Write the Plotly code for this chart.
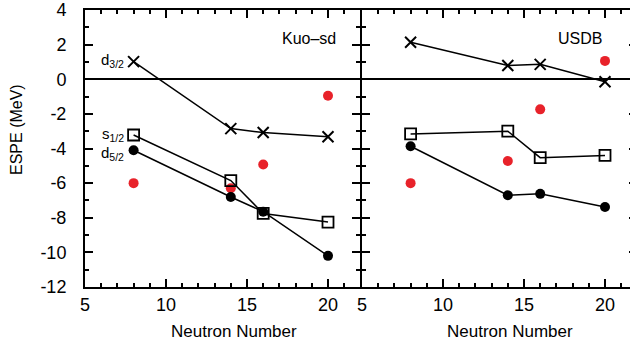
import plotly.graph_objects as go

# Neutron numbers
N = [8, 14, 16, 20]

# Kuo-sd panel
kuo_d32 = [1.02, -2.85, -3.08, -3.32]
kuo_s12 = [-3.22, -5.85, -7.75, -8.25]
kuo_d52 = [-4.10, -6.80, -7.65, -10.20]
kuo_exp = [-6.00, -6.30, -4.92, -0.95]

# USDB panel
usdb_d32 = [2.14, 0.79, 0.86, -0.14]
usdb_s12 = [-3.16, -3.00, -4.53, -4.40]
usdb_d52 = [-3.87, -6.70, -6.62, -7.38]
usdb_exp = [-6.00, -4.72, -1.74, 1.06]

x_ticks = [5, 10, 15, 20]
y_ticks = [4, 2, 0, -2, -4, -6, -8, -10, -12]

FONT = "Liberation Sans, Arial, Helvetica, sans-serif"
RED = "#e8222a"

fig = go.Figure()

def add_panel(xa, ya, d32, s12, d52, ex):
    fig.add_trace(go.Scatter(x=N, y=ex, mode="markers", xaxis=xa, yaxis=ya,
                             marker=dict(symbol="circle", size=10, color=RED, line=dict(width=0)),
                             showlegend=False))
    fig.add_trace(go.Scatter(x=N, y=d32, mode="lines+markers", xaxis=xa, yaxis=ya,
                             line=dict(color="black", width=1.5),
                             marker=dict(symbol="x-thin", size=11, color="black",
                                         line=dict(color="black", width=2)),
                             showlegend=False))
    fig.add_trace(go.Scatter(x=N, y=s12, mode="lines+markers", xaxis=xa, yaxis=ya,
                             line=dict(color="black", width=1.5),
                             marker=dict(symbol="square-open", size=11, color="black",
                                         line=dict(color="black", width=1.8)),
                             showlegend=False))
    fig.add_trace(go.Scatter(x=N, y=d52, mode="lines+markers", xaxis=xa, yaxis=ya,
                             line=dict(color="black", width=1.5),
                             marker=dict(symbol="circle", size=10, color="black"),
                             showlegend=False))

add_panel("x", "y", kuo_d32, kuo_s12, kuo_d52, kuo_exp)
add_panel("x2", "y2", usdb_d32, usdb_s12, usdb_d52, usdb_exp)

# plot area in page pixels: x 85..637 (right frame falls just outside the 630 px window), y 10..287
PW = 552.0
PH = 277.0

xcommon = dict(tickmode="array", tickvals=x_ticks, ticktext=[str(v) for v in x_ticks],
               ticks="inside", ticklen=8, tickwidth=1.5, tickcolor="black",
               minor=dict(dtick=1, tick0=5, ticks="inside", ticklen=4, tickwidth=1.5, tickcolor="black"),
               showline=True, linewidth=2, linecolor="black", mirror="allticks",
               showgrid=False, zeroline=False, automargin=False,
               tickfont=dict(family=FONT, size=18, color="black"),
               ticklabelstandoff=0)
ycommon = dict(range=[-12, 4], tickmode="array", tickvals=y_ticks,
               ticktext=[str(v) for v in y_ticks],
               ticks="inside", ticklen=8, tickwidth=1.5, tickcolor="black",
               minor=dict(dtick=1, tick0=0, ticks="inside", ticklen=4, tickwidth=1.5, tickcolor="black"),
               showline=True, linewidth=2, linecolor="black", mirror="allticks",
               showgrid=False, zeroline=True, zerolinecolor="black", zerolinewidth=1.5,
               automargin=False,
               tickfont=dict(family=FONT, size=18, color="black"),
               ticklabeloverflow="allow")

fig.update_layout(
    width=637, height=348,
    margin=dict(l=85, r=0, t=10, b=61, autoexpand=False),
    paper_bgcolor="white", plot_bgcolor="white",
    font=dict(family=FONT, color="black"),
    xaxis=dict(domain=[0, 275 / PW], range=[5, 5 + 275 / 16.2], **xcommon),
    xaxis2=dict(domain=[277 / PW, 1], range=[5, 5 + 275 / 16.2], anchor="y2", **xcommon),
    yaxis=dict(domain=[0, 1], anchor="x", ticklabelstandoff=13, **ycommon),
    yaxis2=dict(domain=[0, 1], anchor="x2", matches="y", showticklabels=False, **ycommon),
)

ann = [
    dict(text="Neutron Number", x=(234 - 85) / PW, y=(287 - 331) / PH, size=17,
         xanchor="center", yanchor="middle"),
    dict(text="Neutron Number", x=(510 - 85) / PW, y=(287 - 331) / PH, size=17,
         xanchor="center", yanchor="middle"),
    dict(text="Kuo–sd", x=(338 - 85) / PW, y=(287 - 38) / PH, size=16,
         xanchor="right", yanchor="middle"),
    dict(text="USDB", x=(604 - 85) / PW, y=(287 - 38) / PH, size=16,
         xanchor="right", yanchor="middle"),
    dict(text="d<sub>3/2</sub>", x=(126 - 85) / PW, y=(287 - 60) / PH, size=15,
         xanchor="right", yanchor="middle"),
    dict(text="s<sub>1/2</sub>", x=(126 - 85) / PW, y=(287 - 134) / PH, size=15,
         xanchor="right", yanchor="middle"),
    dict(text="d<sub>5/2</sub>", x=(126 - 85) / PW, y=(287 - 153) / PH, size=15,
         xanchor="right", yanchor="middle"),
]
for a in ann:
    fig.add_annotation(text=a["text"], x=a["x"], y=a["y"], xref="paper", yref="paper",
                       xanchor=a["xanchor"], yanchor=a["yanchor"], showarrow=False,
                       font=dict(family=FONT, size=a["size"], color="black"))

fig.add_annotation(text="ESPE (MeV)", x=(16 - 85) / PW, y=(287 - 130) / PH,
                   xref="paper", yref="paper", xanchor="center", yanchor="middle",
                   textangle=-90, showarrow=False,
                   font=dict(family=FONT, size=16, color="black"))

fig.write_html("out.html", config={"displayModeBar": False},
               post_script="document.body.style.margin='0px';document.body.style.overflow='hidden';")
